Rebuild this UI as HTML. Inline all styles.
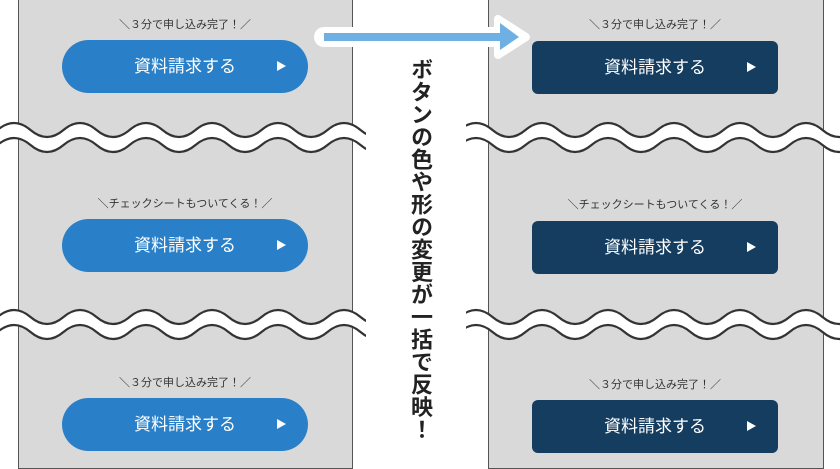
<!DOCTYPE html>
<html><head><meta charset="utf-8"><style>
html,body{margin:0;padding:0;background:#fff;}
body{width:840px;height:467px;position:relative;overflow:hidden;font-family:"Liberation Sans","Noto Sans CJK JP",sans-serif;}
.panel{position:absolute;top:-2px;height:471px;background:#d9d9d9;border:1px solid #555;box-sizing:border-box;}
.lbl{position:absolute;font-size:11px;color:#333;text-align:center;width:246px;}
.btn{position:absolute;width:246px;height:53px;color:#fff;font-size:17px;line-height:53px;text-align:center;}
.btn span.t{position:absolute;right:22px;top:21px;width:0;height:0;border-left:9px solid #fff;border-top:5px solid transparent;border-bottom:5px solid transparent;}
.l{background:#2a80c8;border-radius:27px;left:62px;}
.r{background:#143d60;border-radius:6px;left:532px;}
.vt{position:absolute;left:404px;top:58px;writing-mode:vertical-rl;font-size:22px;font-weight:bold;color:#222;letter-spacing:0.5px;}
</style></head><body>
<div class="panel" style="left:18px;width:335px"></div>
<div class="panel" style="left:488px;width:336px"></div>

<div class="lbl" style="left:62px;top:16px">＼３分で申し込み完了！／</div>
<div class="btn l" style="top:40px">資料請求する<span class="t"></span></div>
<div class="lbl" style="left:62px;top:195px">＼チェックシートもついてくる！／</div>
<div class="btn l" style="top:219px">資料請求する<span class="t"></span></div>
<div class="lbl" style="left:62px;top:374px">＼３分で申し込み完了！／</div>
<div class="btn l" style="top:398px">資料請求する<span class="t"></span></div>

<div class="lbl" style="left:532px;top:16px">＼３分で申し込み完了！／</div>
<div class="btn r" style="top:41px">資料請求する<span class="t"></span></div>
<div class="lbl" style="left:532px;top:196px">＼チェックシートもついてくる！／</div>
<div class="btn r" style="top:221px">資料請求する<span class="t"></span></div>
<div class="lbl" style="left:532px;top:376px">＼３分で申し込み完了！／</div>
<div class="btn r" style="top:400px">資料請求する<span class="t"></span></div>

<svg id="s" width="840" height="467" style="position:absolute;left:0;top:0">
<g id="w"></g>
<rect x="366" y="100" width="100" height="260" fill="#fff"/>
<path d="M324 37 H500" stroke="#fff" stroke-width="20" stroke-linecap="round"/>
<path d="M498 19 L526 37 L498 55 Z" fill="#fff" stroke="#fff" stroke-width="8" stroke-linejoin="round"/>
<path d="M324 37 H502" stroke="#6fb0e4" stroke-width="8"/>
<path d="M500 23 L519 37 L500 50 Z" fill="#6fb0e4"/>
</svg>
<div class="vt">ボタンの色や形の変更が一括で反映！</div>
<script>
function wave(c){var A=7,d="M -35.5 "+c+" Q -19 "+(c+2*A)+" -2.5 "+c;for(var x=30.5;x<900;x+=33)d+=" T "+x+" "+c;return d;}
var g=document.getElementById('w'),h='';
[137.5,324.5].forEach(function(m){
h+='<path d="'+wave(m)+'" fill="none" stroke="#fff" stroke-width="14"/>';
h+='<path d="'+wave(m-7.5)+'" fill="none" stroke="#333" stroke-width="2.2"/>';
h+='<path d="'+wave(m+7.5)+'" fill="none" stroke="#333" stroke-width="2.2"/>';
});
g.innerHTML=h;
</script>
</body></html>
